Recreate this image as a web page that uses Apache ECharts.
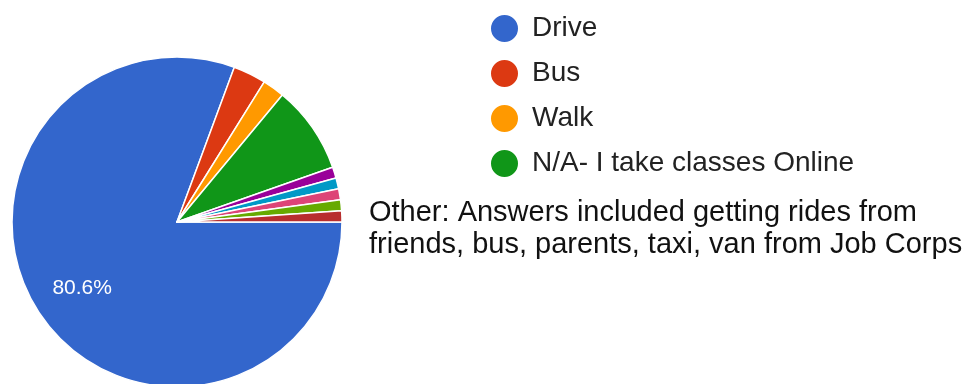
<!DOCTYPE html>
<html>
<head>
<meta charset="utf-8">
<script src="https://cdn.jsdelivr.net/npm/echarts@6/dist/echarts.min.js"></script>
<style>
  html, body { margin: 0; padding: 0; background: #fff; }
  #chart { width: 980px; height: 384px; }
</style>
</head>
<body>
<div id="chart"></div>
<script>
// Survey answers: how students get to class (response counts)
const categories = [
  'Drive', 'Bus', 'Walk', 'N/A- I take classes Online',
  'Rides from friends', 'Bus (other)', 'Parents', 'Taxi', 'Van from Job Corps'
];
const counts = [75, 3, 2, 8, 1, 1, 1, 1, 1];
const colors = ['#3366cc', '#dc3912', '#ff9900', '#109618', '#990099', '#0099c6', '#dd4477', '#66aa00', '#b82e2e'];
const legendNames = ['Drive', 'Bus', 'Walk', 'N/A- I take classes Online'];
const otherNote = 'Other: Answers included getting rides from\nfriends, bus, parents, taxi, van from Job Corps';

const FONT = '"Liberation Sans", Arial, Helvetica, sans-serif';

const sliceData = categories.map((name, i) => ({
  name: name,
  value: counts[i],
  itemStyle: { color: colors[i] }
}));

// Transparent twin of the pie, larger, used only to place the percentage label
const labelData = categories.map((name, i) => ({
  name: name,
  value: counts[i],
  itemStyle: { color: 'rgba(0,0,0,0)', borderWidth: 0 },
  label: { show: i === 0 }
}));

const chart = echarts.init(document.getElementById('chart'), null, { renderer: 'canvas' });
chart.setOption({
  animation: false,
  backgroundColor: '#ffffff',
  color: colors,
  legend: {
    data: legendNames,
    orient: 'vertical',
    left: 484,
    top: 8,
    icon: 'circle',
    itemWidth: 29,
    itemHeight: 29,
    itemGap: 14,
    selectedMode: false,
    textStyle: { fontFamily: FONT, fontSize: 28, color: '#222222', padding: [0, 0, 0, 8] }
  },
  graphic: [{
    type: 'text',
    left: 369,
    top: 197,
    style: {
      text: otherNote,
      font: '29px ' + FONT,
      fill: '#111111',
      lineHeight: 32
    }
  }],
  series: [
    {
      type: 'pie',
      center: [177, 222],
      radius: [0, 165],
      startAngle: 0,
      clockwise: true,
      silent: true,
      percentPrecision: 1,
      label: { show: false },
      labelLine: { show: false },
      itemStyle: { borderColor: '#ffffff', borderWidth: 1.5 },
      data: sliceData
    },
    {
      type: 'pie',
      center: [177, 222],
      radius: [0, 225],
      startAngle: 0,
      clockwise: true,
      silent: true,
      percentPrecision: 1,
      label: {
        show: true,
        position: 'inside',
        formatter: '{d}%',
        fontFamily: FONT,
        fontSize: 21,
        color: '#ffffff'
      },
      labelLine: { show: false },
      data: labelData
    }
  ]
});
</script>
</body>
</html>
